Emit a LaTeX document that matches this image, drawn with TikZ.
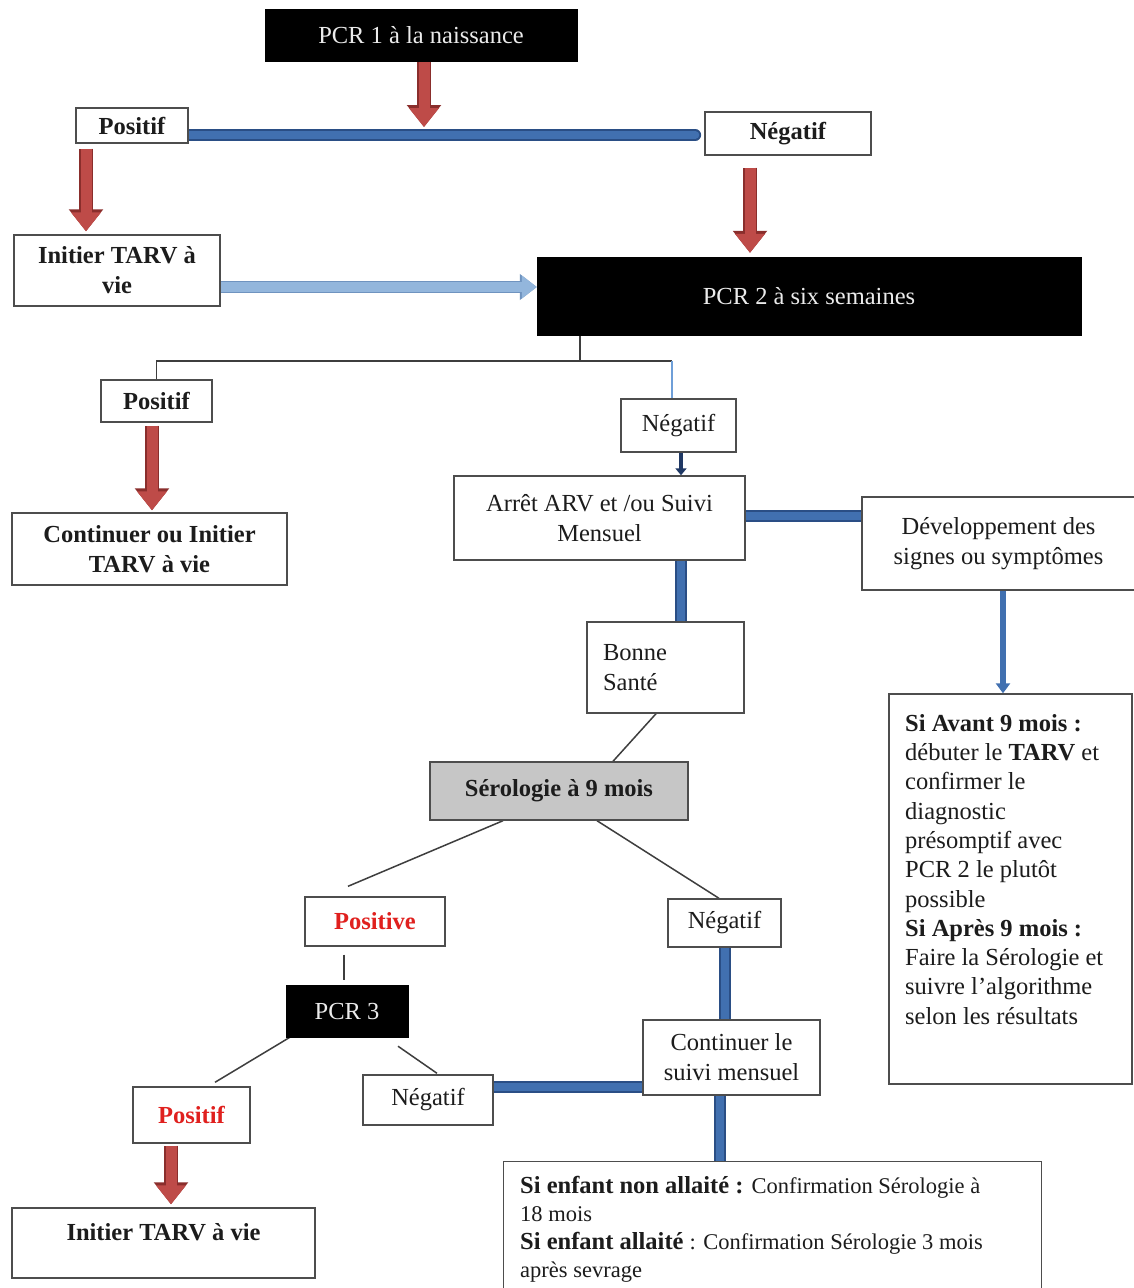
\documentclass[tikz,border=0pt]{standalone}
\usepackage{fontspec}
\setmainfont{Liberation Serif}
\usetikzlibrary{arrows.meta,calc}
\pgfdeclarelayer{bg}
\pgfsetlayers{bg,main}

\definecolor{ink}{HTML}{1C1C1C}
\definecolor{edgegray}{HTML}{4D4D4D}
\definecolor{redfill}{HTML}{BE4B48}
\definecolor{rededge}{HTML}{8A2E2C}
\definecolor{bluefill}{HTML}{4170B0}
\definecolor{blueedge}{HTML}{2A4E85}
\definecolor{lightfill}{HTML}{93B6DC}
\definecolor{lightedge}{HTML}{6F93BF}
\definecolor{navy}{HTML}{1F3864}
\definecolor{thinblue}{HTML}{6F9FD8}
\definecolor{serogray}{HTML}{C6C6C6}
\definecolor{posred}{HTML}{E0201E}

\newcommand{\fsbody}{\fontsize{24.5}{30}\selectfont}
\newcommand{\fslist}{\fontsize{24.5}{29.3}\selectfont}
\newcommand{\fsnote}{\fontsize{22.5}{28}\selectfont}

\tikzset{
  box/.style={draw=edgegray, line width=1.4pt, fill=white, inner sep=0pt,
    align=center, font=\fsbody, text=ink},
  blackbox/.style={draw=black, fill=black, inner sep=0pt, font=\fsbody,
    text=white!92!black},
  textblock/.style={inner sep=0pt, align=left, text=ink},
  redarr/.style={
    preaction={draw=rededge, line width=14pt, -{Triangle[width=33pt,length=22pt]}},
    draw=redfill, line width=11pt, -{Triangle[width=29pt,length=19pt]}},
  lbarrow/.style={
    preaction={draw=lightedge, line width=12pt, -{Triangle[width=25pt,length=17pt]}},
    draw=lightfill, line width=9.5pt, -{Triangle[width=22pt,length=15pt]}},
  blueline/.style={draw=blueedge, line width=1.8pt, double=bluefill, double distance=8pt},
  midarr/.style={draw=bluefill, line width=5.5pt, -{Triangle[width=14pt,length=10pt]}},
  navyarr/.style={draw=navy, line width=4pt, -{Triangle[width=11pt,length=7pt]}},
  thinline/.style={draw=ink!85, line width=1.5pt},
  thinblueline/.style={draw=thinblue, line width=1.3pt},
}

\begin{document}
\begin{tikzpicture}[x=1pt,y=-1pt]
\useasboundingbox (0,0) rectangle (1134,1288);
\clip (0,0) rectangle (1134,1288);

% ---- boxes ----
\node[blackbox, minimum width=312, minimum height=52] (pcr1) at (421,35) {PCR 1 à la naissance};
\node[box, minimum width=112, minimum height=35] (pos1) at (132,125.5) {\textbf{Positif}};
\node[box, minimum width=166, minimum height=43] (neg1) at (788,133.5) {\textbf{Négatif}};
\node[box, minimum width=206, minimum height=71] (init1) at (117,270.5) {\textbf{Initier TARV à}\\\textbf{vie}};
\node[blackbox, minimum width=544, minimum height=78] (pcr2) at (809,296) {PCR 2 à six semaines};

\node[box, minimum width=111, minimum height=42] (pos2) at (156.5,401) {\textbf{Positif}};
\node[box, minimum width=275, minimum height=72] (cont1) at (149.5,549) {\textbf{Continuer ou Initier}\\\textbf{TARV à vie}};
\node[box, minimum width=115, minimum height=53] (neg2) at (678.5,425.5) {Négatif};
\node[box, minimum width=291, minimum height=84] (arret) at (599.5,518) {Arrêt ARV et /ou Suivi\\Mensuel};
\node[box, minimum width=273, minimum height=93] (dev) at (998.5,543.5) {Développement des\\signes ou symptômes};
\node[box, minimum width=157, minimum height=91, text width=125, align=left] (bonne) at (665.5,667.5) {Bonne\\Santé};
\node[box, minimum width=243, minimum height=390] (siav) at (1010.5,889) {};
\node[textblock, font=\fslist, anchor=north west] (siavtxt) at (905,714)
  {\textbf{Si Avant 9 mois :}\\
   débuter le \textbf{TARV} et\\
   confirmer le\\
   diagnostic\\
   présomptif avec\\
   PCR 2 le plutôt\\
   possible\\
   \textbf{Si Après 9 mois :}\\
   Faire la Sérologie et\\
   suivre l’algorithme\\
   selon les résultats};

\node[box, fill=serogray, minimum width=258, minimum height=58] (sero) at (559,791) {\textbf{Sérologie à 9 mois}};
\node[box, minimum width=140, minimum height=49] (posv) at (375,921.5) {\textcolor{posred}{\textbf{Positive}}};
\node[box, minimum width=113, minimum height=48] (neg3) at (724.5,923) {Négatif};
\node[blackbox, minimum width=122, minimum height=52] (pcr3) at (347,1011) {PCR 3};
\node[box, minimum width=177, minimum height=75] (cont2) at (731.5,1057.5) {Continuer le\\suivi mensuel};
\node[box, minimum width=117, minimum height=56] (pos3) at (191.5,1115) {\textcolor{posred}{\textbf{Positif}}};
\node[box, minimum width=130, minimum height=50] (neg4) at (428,1100) {Négatif};
\node[box, minimum width=303, minimum height=70, text height=17pt, text depth=23pt] (init3) at (163.5,1243) {\textbf{Initier TARV à vie}};
\node[box, minimum width=538, minimum height=132, anchor=north west] (bot) at (503,1161) {};
\node[textblock, font=\fontsize{24.5}{28}\selectfont, anchor=north west] (bottxt) at (520,1176)
  {\textbf{Si enfant non allaité :} {\fsnote Confirmation Sérologie à}\\
   {\fsnote 18 mois}\\
   \textbf{Si enfant allaité} {\fsnote : Confirmation Sérologie 3 mois}\\
   {\fsnote après sevrage}};

% ---- column and row guides for the connectors ----
\coordinate (bar) at (0,135);
\coordinate (c1) at (424,127);
\coordinate (c2) at (750,0);
\coordinate (c3) at (86,0);
\coordinate (r1) at (0,287);
\coordinate (split) at (580,361);
\coordinate (c4) at (672,0);
\coordinate (c5) at (152,0);
\coordinate (c6) at (681,0);
\coordinate (r2) at (0,516);
\coordinate (c7) at (1003,0);
\coordinate (b1) at (656,0);
\coordinate (s1) at (613,0);
\coordinate (s2) at (503,0);
\coordinate (p1) at (348,0);
\coordinate (s3) at (597,0);
\coordinate (n3) at (719,0);
\coordinate (c8) at (344,0);
\coordinate (c9) at (290,0);
\coordinate (c10) at (215,0);
\coordinate (c11) at (398,0);
\coordinate (c12) at (437,0);
\coordinate (c13) at (171,0);
\coordinate (c14) at (725,0);
\coordinate (r3) at (0,1087);
\coordinate (c15) at (720,0);

% ---- connectors, kept behind the boxes ----
\begin{pgfonlayer}{bg}
\fill[white] (0,0) rectangle (1134,1288);
\draw[blueline, line cap=round] (pos1.east |- bar) -- ($(neg1.west |- bar)+(-9,0)$);
\draw[redarr] (pcr1.south -| c1) -- (c1);
\draw[redarr] ($(neg1.south -| c2)+(0,12)$) -- ($(pcr2.north -| c2)+(0,-4)$);
\draw[redarr] ($(pos1.south -| c3)+(0,5)$) -- ($(init1.north -| c3)+(0,-3)$);
\draw[lbarrow] (init1.east |- r1) -- (pcr2.west |- r1);

\draw[thinline] (pcr2.south -| split) -- (split) -- (split -| pos2.north) -- (pos2.north);
\draw[thinline] (split) -- (split -| c4);
\draw[thinblueline] (split -| c4) -- (neg2.north -| c4);

\draw[redarr] ($(pos2.south -| c5)+(0,3)$) -- ($(cont1.north -| c5)+(0,-2)$);
\draw[navyarr] (neg2.south -| c6) -- (arret.north -| c6);
\draw[blueline] (arret.east |- r2) -- (dev.west |- r2);
\draw[blueline] (arret.south -| c6) -- (bonne.north -| c6);
\draw[midarr] (dev.south -| c7) -- (siav.north -| c7);

\draw[thinline] (bonne.south -| b1) -- (sero.north -| s1);
\draw[thinline] (sero.south -| s2) -- ($(posv.north -| p1)+(0,-10)$);
\draw[thinline] (sero.south -| s3) -- (neg3.north -| n3);
\draw[thinline] ($(posv.south -| c8)+(0,8)$) -- ($(pcr3.north -| c8)+(0,-5)$);
\draw[thinline] (pcr3.south -| c9) -- ($(pos3.north -| c10)+(0,-4)$);
\draw[thinline] ($(pcr3.south -| c11)+(0,9)$) -- ($(neg4.north -| c12)+(0,-1)$);

\draw[redarr] ($(pos3.south -| c13)+(0,2)$) -- ($(init3.north -| c13)+(0,-3)$);
\draw[blueline] (neg3.south -| c14) -- (cont2.north -| c14);
\draw[blueline] (neg4.east |- r3) -- (cont2.west |- r3);
\draw[blueline] (cont2.south -| c15) -- (bot.north -| c15);
\end{pgfonlayer}
\end{tikzpicture}
\end{document}
